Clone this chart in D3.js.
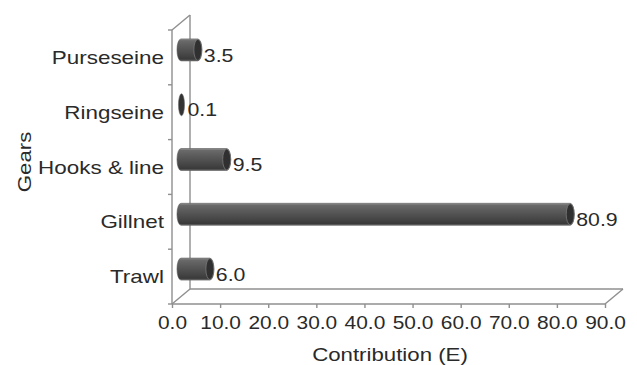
<!DOCTYPE html>
<html><head><meta charset="utf-8">
<script src="https://cdn.jsdelivr.net/npm/d3@7"></script>
<style>html,body{margin:0;padding:0;background:#fff}svg{display:block}text{font-family:"Liberation Sans",Arial,sans-serif;fill:#2a2a2a}</style>
</head><body><svg id="c" width="637" height="365"></svg>
<script>
const categories = ["Purseseine","Ringseine","Hooks & line","Gillnet","Trawl"];
const values = [3.5, 0.1, 9.5, 80.9, 6.0];
const xTicks = [0,10,20,30,40,50,60,70,80,90];
const xTitle = "Contribution (E)";
const yTitle = "Gears";

(function(){
const svg = d3.select("#c");
const pL = 172, pR = 605, pT = 30, pB = 304;
const dx = 18, dy = -15;
const x = d3.scaleLinear().domain([0,90]).range([pL,pR]);
const y = d3.scaleBand().domain(categories).range([pT,pB]).padding(0);
const frame = "#8f8f8f";
const fs = 19;

function stretch(sel,k){ sel.each(function(){ const w=this.getComputedTextLength(); d3.select(this).attr("textLength",w*k).attr("lengthAdjust","spacingAndGlyphs"); }); }

const defs = svg.append("defs");
const g = defs.append("linearGradient").attr("id","bodyGrad").attr("x1",0).attr("y1",0).attr("x2",0).attr("y2",1);
[[0,"#9a9a9a"],[0.08,"#6a6a6a"],[0.35,"#5a5a5a"],[0.75,"#444"],[0.92,"#3a3a3a"],[1,"#707070"]].forEach(s=>g.append("stop").attr("offset",s[0]).attr("stop-color",s[1]));

const fr = svg.append("g").attr("stroke",frame).attr("stroke-width",1.4).attr("fill","none");
fr.append("line").attr("x1",pL+dx).attr("y1",pT+dy).attr("x2",pL+dx).attr("y2",pB+dy);
fr.append("line").attr("x1",pL).attr("y1",pT).attr("x2",pL+dx).attr("y2",pT+dy);
fr.append("line").attr("x1",pL+dx).attr("y1",pB+dy).attr("x2",pR+dx).attr("y2",pB+dy);
fr.append("line").attr("x1",pL).attr("y1",pB).attr("x2",pL+dx).attr("y2",pB+dy);
fr.append("line").attr("x1",pR).attr("y1",pB).attr("x2",pR+dx).attr("y2",pB+dy);
fr.append("line").attr("x1",pL).attr("y1",pT).attr("x2",pL).attr("y2",pB);
fr.append("line").attr("x1",pL).attr("y1",pB).attr("x2",pR).attr("y2",pB);
const bounds = categories.map(c=>y(c)).concat([pB]);
fr.selectAll("line.lt").data(bounds).enter().append("line").attr("class","lt")
  .attr("x1",pL-4).attr("x2",pL).attr("y1",d=>d).attr("y2",d=>d);

const ax = svg.append("g").attr("transform",`translate(0,${pB})`)
  .call(d3.axisBottom(x).tickValues(xTicks).tickFormat(d3.format(".1f")).tickSize(4).tickSizeOuter(0));
ax.select(".domain").remove();
ax.selectAll(".tick line").attr("stroke",frame).attr("stroke-width",1.4);
ax.selectAll(".tick text").attr("font-size",fs).attr("fill","#2a2a2a").attr("y",12).attr("dy","0.71em")
  .style("font-family","'Liberation Sans',Arial,sans-serif");
stretch(ax.selectAll(".tick text"),1.1);

const ry = 11, rx = 4;
const bars = svg.append("g");
categories.forEach((c,i)=>{
  const cy = y(c)+y.bandwidth()/2 + dy/2;
  const x0 = x(0)+dx/2, x1 = x(values[i])+dx/2;
  const grp = bars.append("g");
  if (x1-x0 > 2) {
    const p = `M${x0},${cy-ry} L${x1},${cy-ry} A${rx},${ry} 0 0 1 ${x1},${cy+ry} L${x0},${cy+ry} A${rx},${ry} 0 0 1 ${x0},${cy-ry} Z`;
    grp.append("path").attr("d",p).attr("fill","url(#bodyGrad)").attr("stroke","#555").attr("stroke-width",0.6);
    grp.append("ellipse").attr("cx",x1).attr("cy",cy).attr("rx",rx).attr("ry",ry-0.5)
      .attr("fill","#303030").attr("stroke","#7a7a7a").attr("stroke-width",0.8);
  } else {
    grp.append("ellipse").attr("cx",x1).attr("cy",cy).attr("rx",3).attr("ry",ry)
      .attr("fill","#333").attr("stroke","#666").attr("stroke-width",0.6);
  }
  const t = svg.append("text").attr("x",x1+rx+2).attr("y",cy+5).attr("dy","0.35em")
    .attr("font-size",fs).text(values[i].toFixed(1));
  stretch(t,1.12);
});

const cl = svg.append("g").selectAll("text").data(categories).enter().append("text")
  .attr("x",164).attr("y",d=>y(d)+y.bandwidth()/2).attr("dy","0.35em")
  .attr("text-anchor","end").attr("font-size",fs).text(d=>d);
stretch(cl,1.18);

const xt = svg.append("text").attr("x",390).attr("y",361).attr("text-anchor","middle").attr("font-size",fs).text(xTitle);
stretch(xt,1.17);
const yt = svg.append("text").attr("transform","translate(31,162) rotate(-90)").attr("text-anchor","middle").attr("font-size",fs).text(yTitle);
stretch(yt,1.17);
})();
</script></body></html>
